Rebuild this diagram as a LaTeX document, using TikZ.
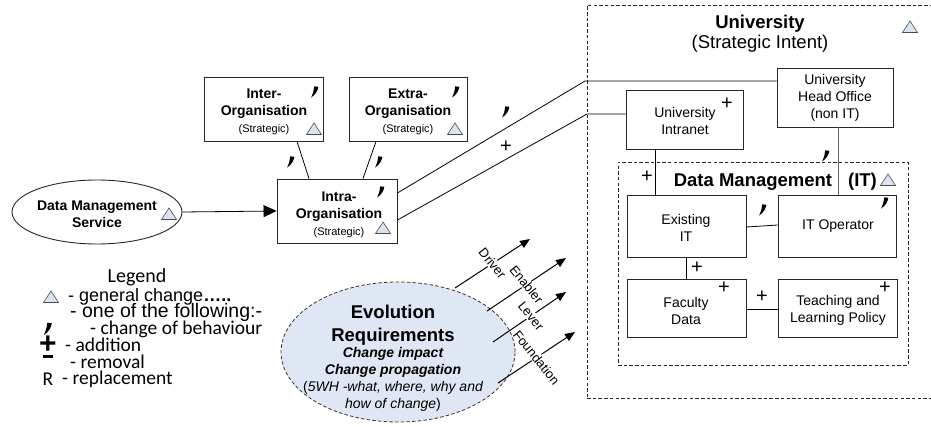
\documentclass[tikz,border=0pt]{standalone}
\usepackage{fontspec}
\setmainfont{Liberation Sans}
\newfontfamily\calib{Carlito}
\usetikzlibrary{arrows.meta,shapes.geometric,calc}
\definecolor{trifill}{HTML}{DCE3F0}
\definecolor{evofill}{HTML}{DEE7F3}
\newcommand\myfs[2]{\fontsize{#1}{#2}\selectfont}
\begin{document}
\begin{tikzpicture}[x=1pt,y=-1pt,
  box/.style={draw=black!85, line width=0.9pt, fill=white, inner sep=0pt, rectangle},
  dbox/.style={draw=black!85, line width=0.8pt, dash pattern=on 3.5pt off 2.2pt, inner sep=0pt, rectangle},
  conn/.style={draw=black, line width=0.8pt},
  btxt/.style={font=\bfseries\myfs{14}{17}, align=center, inner sep=0pt},
  rtxt/.style={font=\myfs{14}{17}, align=center, inner sep=0pt},
  sym/.style={font=\myfs{20}{20}, inner sep=0pt},
  lab/.style={fill=white, inner sep=0.8pt, rotate=-51, font=\myfs{13}{15}},
  evoarrow/.style={draw=black, line width=1pt, -{Triangle[length=10pt,width=8pt]}},
  legtxt/.style={anchor=west, inner sep=0pt},
  tri/.pic={\draw[draw=black!70, line width=0.6pt, fill=trifill, line join=miter] (-7.5,5.5) -- (7.5,5.5) -- (0,-6) -- cycle;},
  cm/.pic={\fill[black] (0.2,-5.6) -- (4.4,-5.2) .. controls (3.6,-1) and (1.2,3) .. (-3,5.6) .. controls (-1.4,2.6) and (-0.2,-1) .. cycle;}
]
\useasboundingbox (0,0) rectangle (931,427);

% ---------- University ----------
\node[dbox, minimum width=350pt, minimum height=393pt] (univ) at (762,201.5) {};
\node[font=\bfseries\myfs{18.5}{21}, inner sep=0pt] (univT) at (760,24) {University};
\node[font=\myfs{18.5}{21}, inner sep=0pt] (univS) at (760,44) {(Strategic Intent)};
\pic at (910,27) {tri};

\node[box, minimum width=116pt, minimum height=59pt] (head) at (835,97.5) {};
\node[rtxt] (headT) at (835,98) {University\\Head Office\\(non IT)};
\node[box, minimum width=117pt, minimum height=59pt] (intranet) at (684.5,119.5) {};
\node[rtxt] (intranetT) at (685,121) {University\\Intranet};
\node[sym] (pIntranet) at (727,104) {+};

% ---------- Data Management (IT) ----------
\node[dbox, minimum width=290pt, minimum height=203pt] (dm) at (763,263.5) {};
\node[font=\bfseries\myfs{18.5}{21}, inner sep=0pt] (dmT) at (753,182) {Data Management};
\node[font=\bfseries\myfs{18.5}{21}, inner sep=0pt] (dmIT) at (862.5,182) {(IT)};
\pic at (888,180) {tri};
\node[sym] (pDm) at (647,177) {+};

\node[box, minimum width=119pt, minimum height=62pt] (exist) at (686.5,226) {};
\node[rtxt] (existT) at (686,228) {Existing\\IT};
\node[box, minimum width=118pt, minimum height=62pt] (itop) at (837,226) {};
\node[rtxt] (itopT) at (838,226) {IT Operator};
\pic at (884,203) {cm};
\node[box, minimum width=119pt, minimum height=58pt] (fac) at (686.5,308) {};
\node[rtxt] (facT) at (686,311) {Faculty\\Data};
\node[sym] (pFac) at (724,288) {+};
\node[box, minimum width=119pt, minimum height=58pt] (teach) at (837.5,308) {};
\node[rtxt] (teachT) at (838,310) {Teaching and\\Learning Policy};
\node[sym] (pTeach) at (885,288) {+};

\draw[conn] ([xshift=-29.5pt]intranet.south) -- ([xshift=-31.5pt]exist.north);
\draw[conn, draw=black!60] ([xshift=3pt]head.south) -- ([xshift=1pt]itop.north);
\pic at (825,156) {cm};
\draw[conn] ([yshift=-1pt]exist.east) -- ([yshift=1pt]itop.west);
\pic at (762,210) {cm};
\draw[conn] (exist.south) -- (fac.north);
\node[sym] (pEF) at (697,268) {+};
\draw[conn] ([yshift=-1pt]fac.east) -- ([yshift=-1pt]teach.west);
\node[sym] (pFT) at (762,297) {+};

% ---------- Organisation boxes ----------
\node[box, minimum width=119pt, minimum height=64pt] (inter) at (263.5,109) {};
\node[btxt] (interT) at (264,112) {Inter-\\Organisation\\{\mdseries\myfs{11}{16}(Strategic)}};
\pic at (314,129) {tri};
\pic at (314,92) {cm};
\node[box, minimum width=118pt, minimum height=64pt] (extra) at (408,109) {};
\node[btxt] (extraT) at (408,112) {Extra-\\Organisation\\{\mdseries\myfs{11}{16}(Strategic)}};
\pic at (455,129) {tri};
\pic at (455,92) {cm};
\node[box, minimum width=120pt, minimum height=64pt] (intra) at (337,211) {};
\node[btxt] (intraT) at (339,215) {Intra-\\Organisation\\{\mdseries\myfs{11}{16}(Strategic)}};
\pic at (383,228) {tri};
\pic at (380,192) {cm};

\draw[conn] ([xshift=33.5pt]inter.south) -- ([xshift=-28pt]intra.north);
\pic at (290,162) {cm};
\draw[conn] ([xshift=-32pt]extra.south) -- ([xshift=26pt]intra.north);
\pic at (378,162) {cm};

% lines from Intra to University
\coordinate (bendA) at (585,81);
\coordinate (bendB) at (587,114);
\draw[conn] ([yshift=18pt]intra.east) -- (bendA) -- (bendA -| head.west);
\draw[conn] ([yshift=-9pt]intra.east) -- (bendB) -- (bendB -| intranet.west);
\pic at (505,112) {cm};
\node[sym] (pLow) at (506,147) {+};

% ---------- Data Management Service ----------
\node[ellipse, draw=black!85, line width=0.9pt, minimum width=170pt, minimum height=64pt, inner sep=0pt] (dms) at (97,212) {};
\node[btxt] (dmsT) at (97,214) {Data Management\\Service};
\pic at (169,214) {tri};
\draw[conn, -{Triangle[length=13pt,width=12pt]}] (dms.east) -- (intra.west);

% ---------- Evolution Requirements ----------
\node[ellipse, draw=black!80, line width=0.8pt, dash pattern=on 3.5pt off 2.2pt, fill=evofill, minimum width=234pt, minimum height=140pt, inner sep=0pt] (evo) at (398,352) {};
\node[font=\bfseries\myfs{18.5}{23}, align=center, inner sep=0pt] (evoT) at (393,325) {Evolution\\Requirements};
\node[font=\bfseries\itshape\myfs{14}{17}, align=center, inner sep=0pt] (evoS) at (393,379) {Change impact\\Change propagation\\{\mdseries\upshape(\itshape 5WH -what, where, why and}\\{\mdseries\itshape how of change\upshape)}};

\coordinate (a1s) at (455,288); \coordinate (a1e) at (530,239);
\coordinate (a2s) at (487,311); \coordinate (a2e) at (566,258);
\coordinate (a3s) at (493,342); \coordinate (a3e) at (566,292);
\coordinate (a4s) at (498,383); \coordinate (a4e) at (575,332);
\draw[evoarrow] (a1s) -- (a1e) node[lab, pos=0.5] (lDriver) {Driver};
\draw[evoarrow] (a2s) -- (a2e) node[lab, pos=0.5] (lEnabler) {Enabler};
\draw[evoarrow] (a3s) -- (a3e) node[lab, pos=0.52] (lLever) {Lever};
\draw[evoarrow] (a4s) -- (a4e) node[lab, pos=0.5] (lFound) {Foundation};

% ---------- Legend ----------
\node[font=\calib\myfs{20}{24}, inner sep=0pt] (leg) at (137,277) {Legend};
\pic at (51,297) {tri};
\node[legtxt, font=\myfs{18}{22}] (l1) at (68,297) {- general change\textbf{…..}};
\node[legtxt, font=\myfs{19.5}{22}] (l2) at (70,312) {- one of the following:-};
\pic[scale=1.1] at (47,329) {cm};
\node[legtxt, font=\calib\myfs{19.5}{24}] (l3) at (90,329) {- change of behaviour};
\node[font=\bfseries\myfs{30}{30}, inner sep=0pt] (lplus) at (48,345) {+};
\node[legtxt, font=\calib\myfs{19.5}{24}] (l4) at (65,345) {- addition};
\node[inner sep=0pt] (lminus) at (48,356) {\rule{10pt}{3pt}};
\node[legtxt, font=\calib\myfs{19.5}{24}] (l5) at (70,362) {- removal};
\node[font=\calib\myfs{19.5}{24}, inner sep=0pt] (lR) at (48,379) {R};
\node[legtxt, font=\calib\myfs{19.5}{24}] (l6) at (62,379) {- replacement};
\end{tikzpicture}
\end{document}
